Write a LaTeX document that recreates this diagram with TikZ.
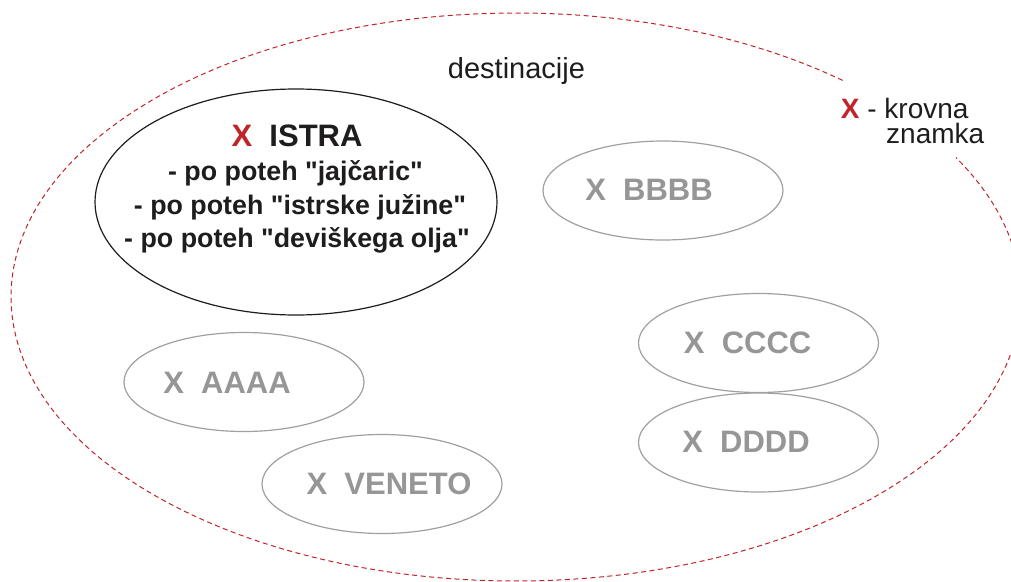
\documentclass[tikz,border=0pt]{standalone}
\usepackage{fontspec}
\setmainfont[Ligatures=NoCommon]{Liberation Sans}
\usetikzlibrary{shapes.geometric}
\definecolor{brandred}{RGB}{192,36,42}
\definecolor{txtblack}{RGB}{30,28,29}
\definecolor{lightgray}{RGB}{160,160,160}
\definecolor{txtgray}{RGB}{150,150,150}
\newcommand{\qq}{\textquotedbl}
\tikzset{
  dest/.style={draw=brandred, line width=1pt, dash pattern=on 5pt off 3.5pt},
  mainell/.style={ellipse, draw=txtblack, line width=1.2pt, inner sep=0pt},
  grayell/.style={ellipse, draw=lightgray, line width=1.2pt, inner sep=0pt, minimum width=240pt, minimum height=99pt},
  graylbl/.style={inner sep=0pt, text=txtgray, font=\fontsize{31}{37}\selectfont\bfseries},
  istralbl/.style={inner sep=0pt, anchor=base, text=txtblack, font=\fontsize{26.8}{31}\selectfont\bfseries},
}
\begin{document}
\begin{tikzpicture}[x=1pt, y=-1pt]
\useasboundingbox (0,0) rectangle (1011,581);
% destination (dashed) ellipse with gap at the upper right
\coordinate (C) at (516,297);
\draw[dest] (C) ++(49.7:505pt and 284pt) arc[start angle=49.7, end angle=389.4, x radius=505pt, y radius=284pt];
\node[inner sep=0pt, anchor=base, text=txtblack, font=\fontsize{29}{34}\selectfont] (dest) at (516.5,78) {destinacije};
\node[inner sep=0pt, anchor=base west, text=txtblack, font=\fontsize{28}{33}\selectfont] (krovna) at (840.7,118) {\textbf{\color{brandred}X} - krovna};
\node[inner sep=0pt, anchor=base west, text=txtblack, font=\fontsize{28}{33}\selectfont] (znamka) at (886,143) {znamka};
% ISTRA
\node[mainell, minimum width=402pt, minimum height=226pt] (istra) at (296,202) {};
\node[inner sep=0pt, anchor=base, text=txtblack, font=\fontsize{31}{37}\selectfont\bfseries] (istratitle) at (297,146.7) {\color{brandred}X\ \ \color{txtblack}ISTRA};
\node[istralbl] (l1) at (295.5,180) {- po poteh \qq jajčaric\qq};
\node[istralbl] (l2) at (300,214) {- po poteh \qq istrske južine\qq};
\node[istralbl] (l3) at (297,247) {- po poteh \qq deviškega olja\qq};
% other destinations
\node[grayell] (bbbb) at (663,190.5) {};
\node[graylbl] (bbbbt) at (649,190) {X\ \ BBBB};
\node[grayell] (cccc) at (758.5,343) {};
\node[graylbl] (cccct) at (747.6,343) {X\ \ CCCC};
\node[grayell] (dddd) at (758.5,442.5) {};
\node[graylbl] (ddddt) at (746,442) {X\ \ DDDD};
\node[grayell] (aaaa) at (244,382) {};
\node[graylbl] (aaaat) at (227,383) {X\ \ AAAA};
\node[grayell] (veneto) at (382,484) {};
\node[graylbl] (venetot) at (389,484) {X\ \ VENETO};
\end{tikzpicture}
\end{document}
